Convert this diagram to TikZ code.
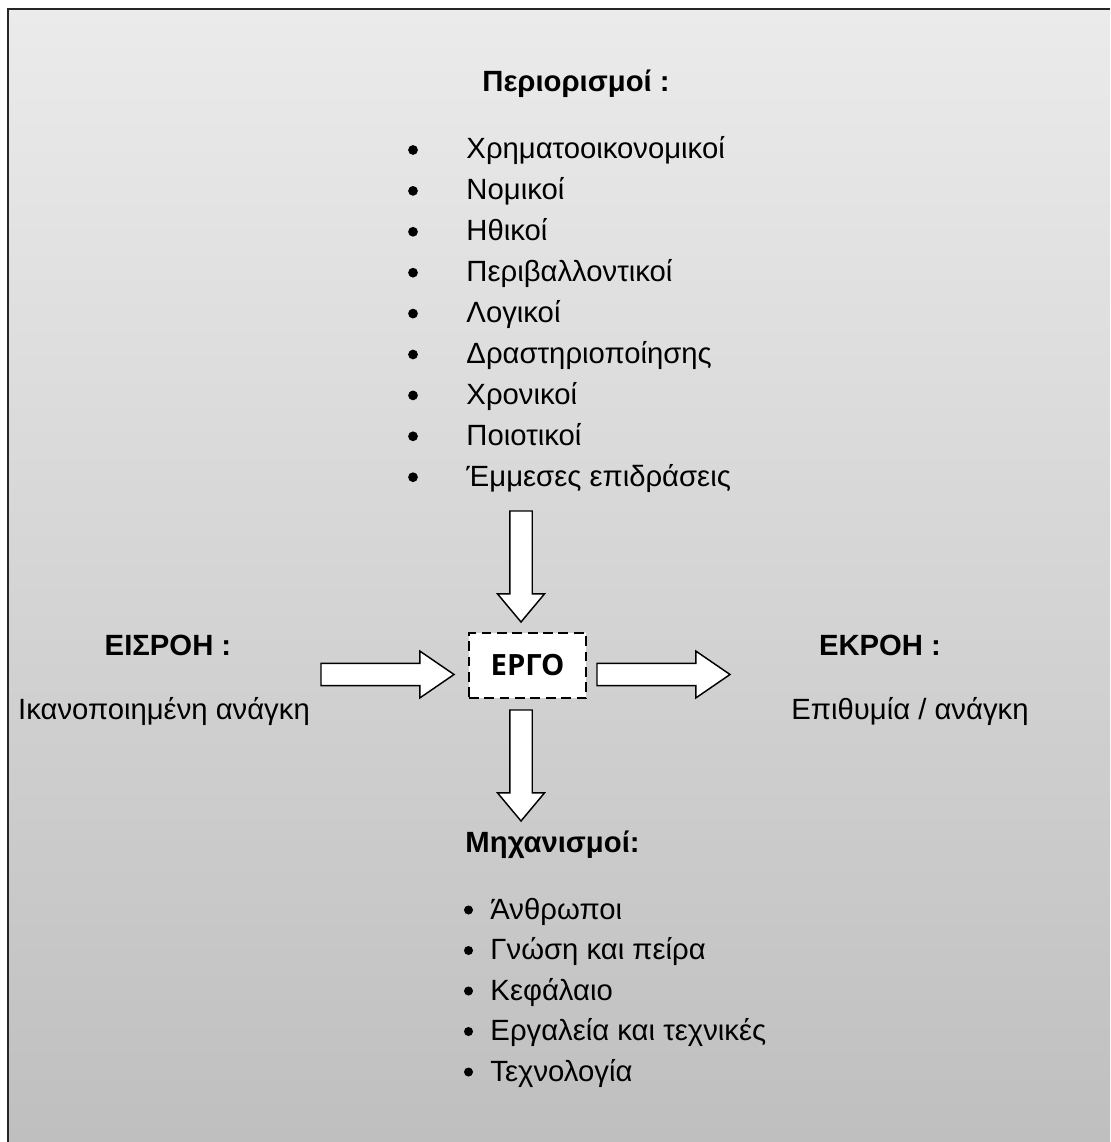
\documentclass[tikz,border=0pt]{standalone}
\usepackage{fontspec}
\setmainfont{Liberation Sans}
\newfontfamily\ergofont{Open Sans}
\usepackage{xcolor}
\usetikzlibrary{positioning, calc}

\definecolor{paneltop}{HTML}{EBEBEB}
\definecolor{panelbottom}{HTML}{BFBFBF}

\begin{document}
\begin{tikzpicture}[x=0.41pt, y=-0.41pt, font=\fontsize{12}{14}\selectfont]
    \tikzstyle{heading} = [font=\fontsize{12}{14}\selectfont\bfseries, inner sep=0pt, anchor=base]
    \tikzstyle{plain} = [inner sep=0pt, anchor=base]
    \tikzstyle{entry} = [inner sep=0pt, anchor=base west]
    \tikzstyle{dot} = [circle, fill=black, inner sep=0pt, minimum size=#1]
    \tikzstyle{task} = [rectangle, draw=black, fill=white, line width=1pt, dash pattern=on 4pt off 2.3pt, minimum width=48pt, minimum height=26.6pt, inner sep=0pt]
    \tikzstyle{blockarrow} = [draw=black, fill=white, line width=0.6pt, line join=miter,
        to path={($(\tikztotarget)!#1!(\tikztostart)$) coordinate (neck)
            ($(\tikztostart)!4.6pt!90:(neck)$) -- ($(neck)!4.6pt!-90:(\tikztostart)$) -- ($(neck)!9.6pt!-90:(\tikztostart)$)
            -- (\tikztotarget) -- ($(neck)!9.6pt!90:(\tikztostart)$) -- ($(neck)!4.6pt!90:(\tikztostart)$)
            -- ($(\tikztostart)!4.6pt!-90:(neck)$) -- cycle}]

    \useasboundingbox (0,0) rectangle (1110,1142);
    \shade[top color=paneltop, bottom color=panelbottom] (8,9) rectangle (1110,1142);
    \draw[line width=0.8pt, black!85] (8,1142) -- (8,9) -- (1110,9);

    % constraints
    \node (limtitle) [heading] at (576,92) {Περιορισμοί :};
    \foreach \txt [count=\i] in {Χρηματοοικονομικοί, Νομικοί, Ηθικοί, Περιβαλλοντικοί, Λογικοί, Δραστηριοποίησης, Χρονικοί, Ποιοτικοί, Έμμεσες επιδράσεις} {
        \node (limdot\i) [dot=4pt] at (413,{150+40.9*(\i-1)}) {};
        \node (lim\i) [entry] at (466,{159+40.9*(\i-1)}) {\txt};
    }

    % project
    \node (ergo) [task] at (527.5,665.5) {\ergofont\bfseries ΕΡΓΟ};

    \node (intitle) [heading] at (168,655) {ΕΙΣΡΟΗ :};
    \node (intext) [plain] at (164,719) {Ικανοποιημένη ανάγκη};
    \node (outtitle) [heading] at (880,655) {ΕΚΡΟΗ :};
    \node (outtext) [plain] at (910,719) {Επιθυμία / ανάγκη};

    % mechanisms
    \node (mechtitle) [heading, anchor=base west] at (465,852) {Μηχανισμοί:};
    \foreach \txt [count=\i] in {Άνθρωποι, Γνώση και πείρα, Κεφάλαιο, Εργαλεία και τεχνικές, Τεχνολογία} {
        \node (mechdot\i) [dot=3.7pt] at (468.5,{910+40.5*(\i-1)}) {};
        \node (mech\i) [entry] at (490,{919+40.5*(\i-1)}) {\txt};
    }

    % arrows
    \coordinate (limtail) at (521,511);
    \coordinate (limtip) at (521,622);
    \coordinate (intail) at (321,674.5);
    \coordinate (intip) at (454,674.5);
    \coordinate (outtail) at (597,674.5);
    \coordinate (outtip) at (730,674.5);
    \coordinate (mechtail) at (521,710);
    \coordinate (mechtip) at (521,821);
    \draw[blockarrow=11.5pt] (limtail) to (limtip);
    \draw[blockarrow=14pt] (intail) to (intip);
    \draw[blockarrow=14pt] (outtail) to (outtip);
    \draw[blockarrow=11.5pt] (mechtail) to (mechtip);
\end{tikzpicture}
\end{document}
